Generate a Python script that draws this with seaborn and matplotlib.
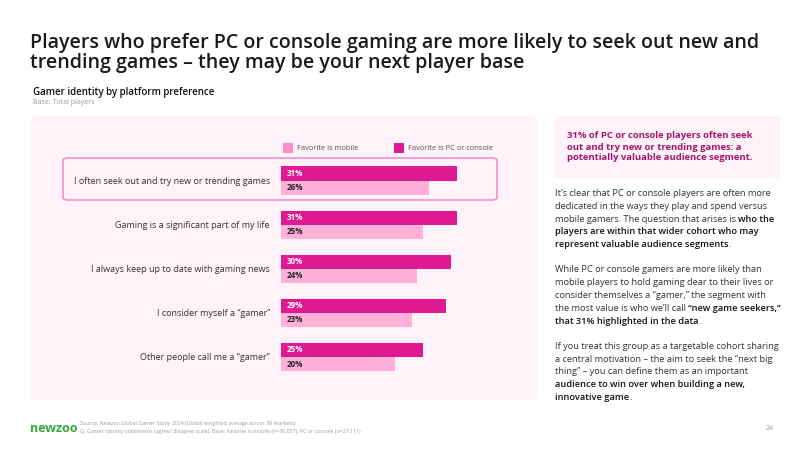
import matplotlib
matplotlib.use("Agg")
import matplotlib.pyplot as plt
from matplotlib.patches import FancyBboxPatch, Rectangle
import pandas as pd
import seaborn as sns

# data
statements = [
    "I often seek out and try new or trending games",
    "Gaming is a significant part of my life",
    "I always keep up to date with gaming news",
    "I consider myself a \u201cgamer\u201d",
    "Other people call me a \u201cgamer\u201d",
]
pc_console = [31, 31, 30, 29, 25]
mobile = [26, 25, 24, 23, 20]
groups = ["Favorite is mobile", "Favorite is PC or console"]

DARK = "#DD1A92"
LIGHT = "#FFB0D8"
LEG_LIGHT = "#FF8CC8"
FONT = "Open Sans"

sns.set_theme(style="white")
plt.rcParams["font.family"] = [FONT, "DejaVu Sans"]

W, H = 800, 450
fig = plt.figure(figsize=(8, 4.5), dpi=100)
fig.patch.set_facecolor("white")


def fx(x):
    return x / W


def fy(y):
    return 1 - y / H


def rbox(x0, y0, x1, y1, fc, ec="none", lw=0, r=6, z=-1):
    p = FancyBboxPatch((fx(x0), fy(y1)), fx(x1 - x0), (y1 - y0) / H,
                       boxstyle=f"round,pad=0,rounding_size={r / W}",
                       transform=fig.transFigure, fc=fc, ec=ec, lw=lw, zorder=z)
    fig.patches.append(p)


# titles
fig.text(fx(30), fy(43), "Players who prefer PC or console gaming are more likely to seek out new and",
         fontsize=14.1, color="#1a1a1a", va="center", ha="left", weight="semibold")
fig.text(fx(30), fy(63), "trending games \u2013 they may be your next player base",
         fontsize=14.1, color="#1a1a1a", va="center", ha="left", weight="semibold")
fig.text(fx(33), fy(92), "Gamer identity by platform preference", fontsize=7,
         color="#111111", va="center", weight="semibold")
fig.text(fx(33), fy(103), "Base: Total players", fontsize=5, color="#9a9a9a", va="center")

# chart panel + highlight box
rbox(30, 116, 537, 400, "#FFF2F8", r=8, z=-2)
rbox(63, 158, 497, 200, "none", ec="#F27DC0", lw=1.0, r=5, z=5)

# legend
for lx, col, lab in [(283, LEG_LIGHT, groups[0]), (394, DARK, groups[1])]:
    fig.patches.append(Rectangle((fx(lx), fy(153)), fx(10), 10 / H,
                                 transform=fig.transFigure, fc=col, ec="none"))
    fig.text(fx(lx + 14), fy(148), lab, fontsize=5.4, color="#555555", va="center")

df = pd.DataFrame({
    "statement": statements * 2,
    "value": pc_console + mobile,
    "group": [groups[1]] * len(statements) + [groups[0]] * len(statements),
})

ax = fig.add_axes([fx(281), fy(379), 227 / W, 220.5 / H])
ax.set_facecolor("none")
ax.set_zorder(2)
sns.barplot(data=df, y="statement", x="value", hue="group",
            hue_order=[groups[1], groups[0]],
            palette={groups[1]: DARK, groups[0]: LIGHT},
            width=0.64, orient="h", ax=ax, legend=False, saturation=1,
            linewidth=0, edgecolor="none")
ax.set_xlim(0, 40)
ax.set_ylim(4.5, -0.5)
ax.set_xlabel("")
ax.set_ylabel("")
ax.set_xticks([])
sns.despine(ax=ax, left=True, bottom=True)
ax.tick_params(axis="y", length=0, pad=8)
for t in ax.get_yticklabels():
    t.set_fontsize(6.5)
    t.set_color("#333333")

for cont, tc in zip(ax.containers, ["white", "#222222"]):
    for p in cont.patches:
        ax.text(1.0, p.get_y() + p.get_height() / 2, f"{p.get_width():.0f}%",
                fontsize=5.8, color=tc, va="center", ha="left", weight="bold")

# right-side callout
rbox(555, 116, 780, 178, "#FFF2F8", r=0)
callout = ["31% of PC or console players often seek",
           "out and try new or trending games: a",
           "potentially valuable audience segment."]
for i, line in enumerate(callout):
    fig.text(fx(567), fy(136 + i * 11), line, fontsize=6.8, color="#A3166F",
             weight="bold", va="center")

# body text with inline bold runs
body = [
    [("It\u2019s clear that PC or console players are often more", False)],
    [("dedicated in the ways they play and spend versus", False)],
    [("mobile gamers. The question that arises is ", False), ("who the", True)],
    [("players are within that wider cohort who may", True)],
    [("represent valuable audience segments", True), (".", False)],
    None,
    [("While PC or console gamers are more likely than", False)],
    [("mobile players to hold gaming dear to their lives or", False)],
    [("consider themselves a \u201cgamer,\u201d the segment with", False)],
    [("the most value is who we\u2019ll call ", False), ("\u201cnew game seekers,\u201d", True)],
    [("that 31% highlighted in the data", True), (".", False)],
    None,
    [("If you treat this group as a targetable cohort sharing", False)],
    [("a central motivation \u2013 the aim to seek the \u201cnext big", False)],
    [("thing\u201d \u2013 you can define them as an important", False)],
    [("audience to win over when building a new,", True)],
    [("innovative game", True), (".", False)],
]
renderer = fig.canvas.get_renderer()
y = 193.5
for line in body:
    if line is None:
        y += 12.75
        continue
    x = 555
    for txt, bold in line:
        t = fig.text(fx(x), fy(y), txt, fontsize=6.65, va="center", ha="left",
                     color="#111111" if bold else "#333333",
                     weight="semibold" if bold else "normal")
        x += t.get_window_extent(renderer).width
    y += 12.75

# footer
fig.text(fx(30), fy(429), "newzoo", fontsize=9, color="#35A843", weight="bold", va="center")
fig.text(fx(80), fy(424), "Source: Newzoo Global Gamer Study 2024 (Global weighted average across 38 markets)",
         fontsize=3.8, color="#999999", va="center")
fig.text(fx(80), fy(432), "Q. Gamer identity statements (agree/ disagree scale). Base: Favorite is mobile (n=30,057), PC or console (n=27,111)",
         fontsize=3.8, color="#999999", va="center")
fig.text(fx(766), fy(428), "24", fontsize=5, color="#999999", va="center")

fig.savefig("out.png", dpi=100, facecolor="white")
